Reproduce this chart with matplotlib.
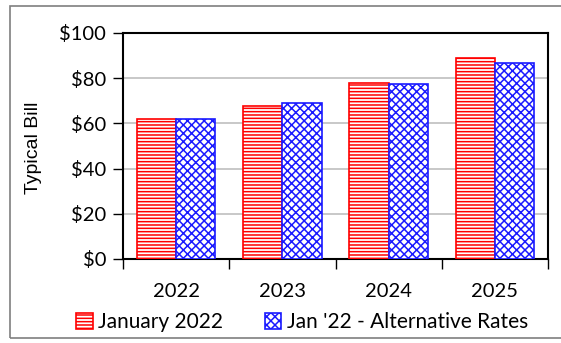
import matplotlib
matplotlib.use("Agg")
import matplotlib.pyplot as plt
import matplotlib.patches as mpatches
import numpy as np

plt.rcParams['font.family'] = ['Lato', 'DejaVu Sans']
plt.rcParams['hatch.linewidth'] = 1.1

years = ["2022", "2023", "2024", "2025"]
january_2022 = [61.8, 67.6, 77.7, 89.1]
alternative = [61.8, 69.2, 77.6, 86.6]
series_names = ["January 2022", "Jan '22 - Alternative Rates"]
y_ticks = [0, 20, 40, 60, 80, 100]

fig = plt.figure(figsize=(5.61, 3.43), dpi=100)
ax = fig.add_axes([123/561, 1-259/343, (548-123)/561, (259-33)/343])

# outer frame
frame = mpatches.Rectangle((10/561, 1-338/343), 1.0, (338-6)/343, transform=fig.transFigure,
                           fill=False, edgecolor='#7f7f7f', linewidth=1.2, clip_on=False)
fig.patches.append(frame)

x = np.arange(len(years))
w = 0.37
ax.bar(x - w/2, january_2022, w, facecolor='white', edgecolor='#ff0000', hatch='-----',
       linewidth=1.2, label=series_names[0], zorder=3)
ax.bar(x + w/2, alternative, w, facecolor='white', edgecolor='#1a1aff', hatch='xxxx',
       linewidth=1.2, label=series_names[1], zorder=3)

ax.set_ylim(0, 100)
ax.set_xlim(-0.5, len(years) - 0.5)
ax.set_yticks(y_ticks)
ax.set_yticklabels([f"${v}" for v in y_ticks])
ax.set_xticks(x)
ax.set_xticklabels(years)
ax.set_xticks(np.arange(-0.5, len(years)), minor=True)
ax.tick_params(axis='x', which='major', length=0, pad=17, labelsize=14.5)
ax.tick_params(axis='x', which='minor', length=7, width=1, direction='out')
ax.tick_params(axis='y', length=7, width=1, direction='out', labelsize=14.5, pad=5)
for y in y_ticks[1:-1]:
    ax.axhline(y, color='#bfbfbf', linewidth=1.2, zorder=1)
for s in ax.spines.values():
    s.set_linewidth(1.5)
    s.set_color('black')
fig.text(33/561, 1-148/343, "Typical Bill", rotation=90, ha='center', va='center',
         fontsize=14, family=['Liberation Sans', 'DejaVu Sans'])

ax.legend(loc='center', bbox_to_anchor=(302/561, 1-322/343), bbox_transform=fig.transFigure,
          ncol=2, frameon=False, fontsize=15, handlelength=0.8, handleheight=0.8,
          handletextpad=0.25, columnspacing=2.0)

fig.savefig("out.png", dpi=100)
